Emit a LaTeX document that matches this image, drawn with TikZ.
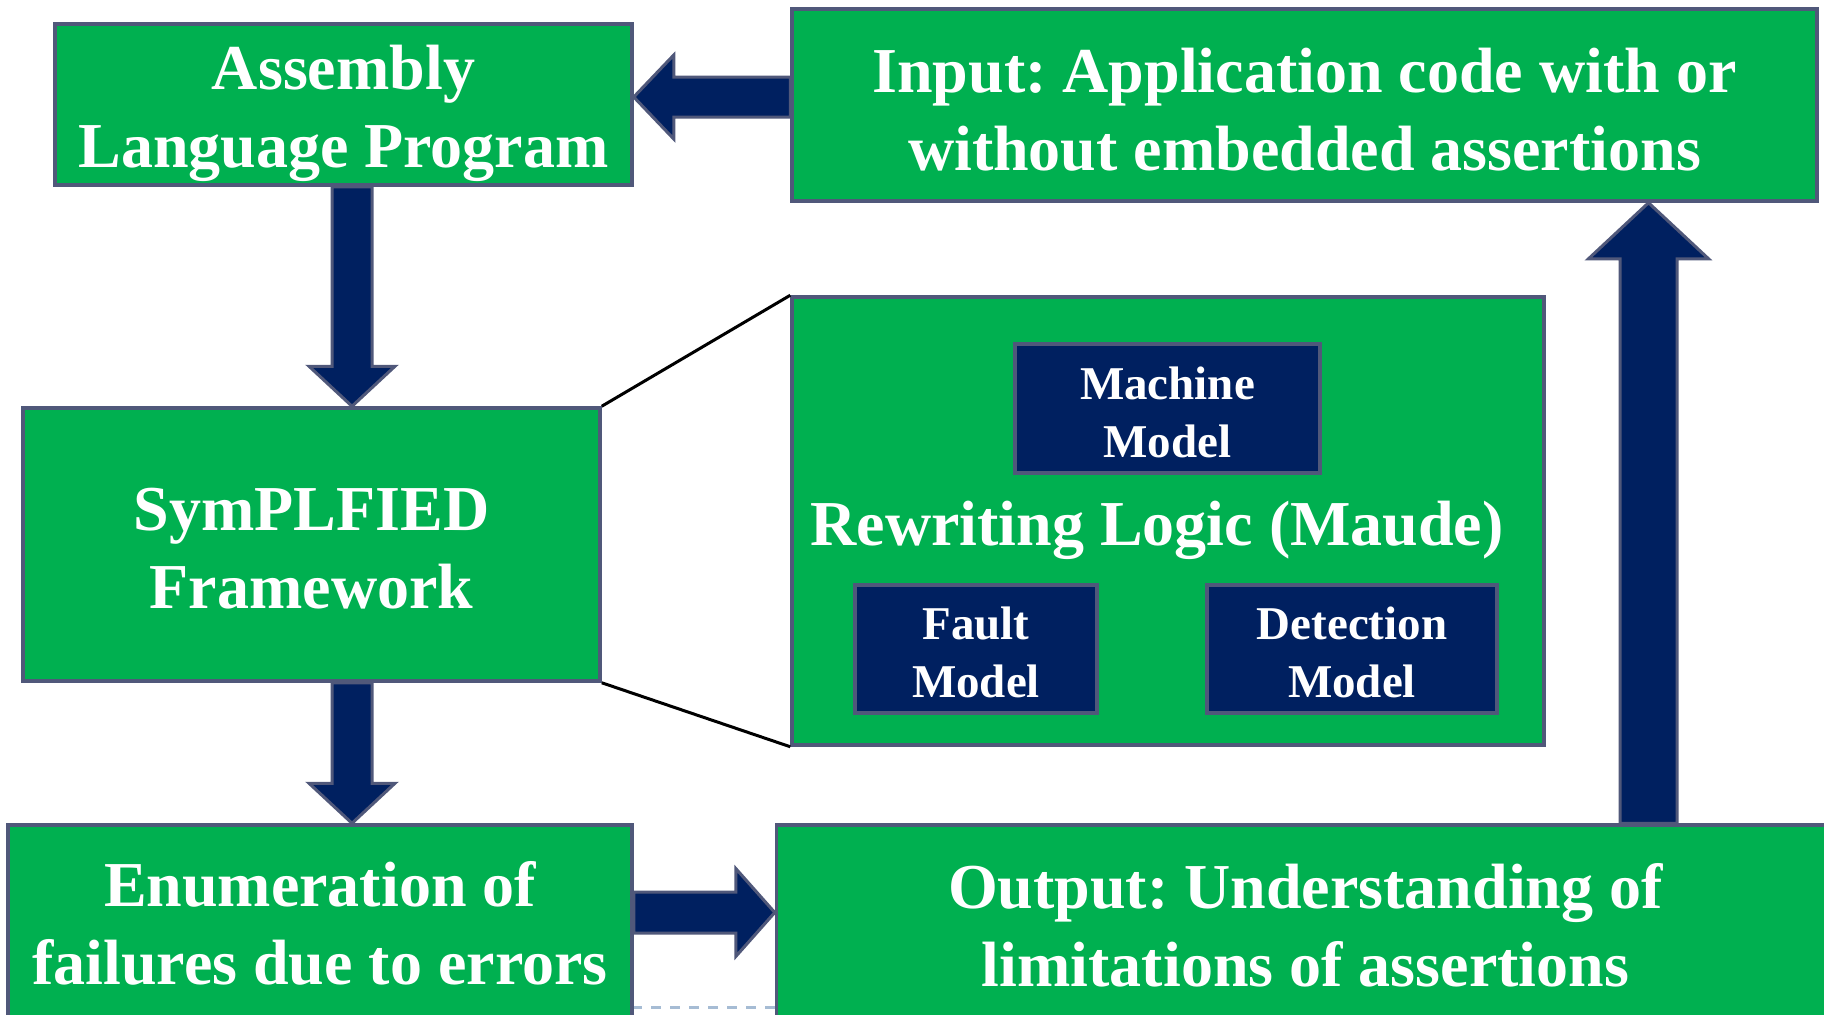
\documentclass[tikz,border=0pt]{standalone}
\usepackage{fontspec}
\setmainfont{Liberation Serif}
\usetikzlibrary{calc}
\frenchspacing

\definecolor{boxgreen}{HTML}{00B050}
\definecolor{navy}{HTML}{002060}
\definecolor{edge}{RGB}{80,88,122}
\definecolor{dashblue}{RGB}{166,188,212}

\tikzset{
  greenbox/.style={draw=edge, line width=3.5pt, fill=boxgreen, inner sep=0pt},
  modelbox/.style={draw=edge, line width=3.5pt, fill=navy, inner sep=0pt},
  bigtext/.style={text=white, align=center, inner sep=0pt,
    font=\bfseries\fontsize{64}{78}\selectfont},
  smalltext/.style={text=white, align=center, inner sep=0pt,
    font=\bfseries\fontsize{47}{58}\selectfont},
  blk/.style={draw=edge, line width=3pt, fill=navy, line join=miter},
  zoomline/.style={draw=black, line width=3pt},
  guide/.style={draw=dashblue, line width=3pt, dash pattern=on 10pt off 9pt}
}

% block arrow from #1 to the tip #2; shaft half-width #3, head half-width #4, head length #5
\newcommand\blockarrow[5]{%
  \coordinate (ba-h) at ($(#2)!#5!(#1)$);
  \draw[blk] ($(#1)!#3!90:(#2)$) -- ($(ba-h)!#3!90:(#2)$) -- ($(ba-h)!#4!90:(#2)$)
    -- (#2) -- ($(ba-h)!#4!-90:(#2)$) -- ($(ba-h)!#3!-90:(#2)$) -- ($(#1)!#3!-90:(#2)$) -- cycle;
}

\begin{document}
\begin{tikzpicture}[x=1pt, y=-1pt]
\useasboundingbox (0,0) rectangle (1824,1015);

% faint guide between the two bottom boxes
\coordinate (g-s) at (632,1007);
\coordinate (g-t) at (776,1007);
\draw[guide] (g-s) -- (g-t);

% main boxes
\node[greenbox, minimum width=577pt, minimum height=161pt] (asm) at (343.5,104.5) {};
\node[greenbox, minimum width=1025pt, minimum height=192pt] (inp) at (1304.5,105) {};
\node[greenbox, minimum width=577pt, minimum height=273pt] (sym) at (311.5,544.5) {};
\node[greenbox, minimum width=624pt, minimum height=200pt] (enu) at (320,925) {};
\node[greenbox, minimum width=1058pt, minimum height=200pt] (out) at (1305.5,925) {};

\node[bigtext] (asm-t) at ($(asm)+(0,9)$) {Assembly\\Language Program};
\node[bigtext] (inp-t) at ($(inp)+(0,5)$) {Input: Application code with or\\without embedded assertions};
\node[bigtext] (sym-t) at ($(sym)+(0,4)$) {SymPLFIED\\Framework};
\node[bigtext] (enu-t) at ($(enu)+(0,-1.5)$) {Enumeration of\\failures due to errors};
\node[bigtext] (out-t) at (out) {Output: Understanding of\\limitations of assertions};

% detail of the framework
\node[greenbox, minimum width=752pt, minimum height=448pt] (rw) at (1168,521) {};
\node[bigtext] (rw-t) at (1157,530.5) {Rewriting Logic (Maude)};
\node[modelbox, minimum width=305pt, minimum height=129pt] (mm) at (1167.5,408.5) {};
\node[modelbox, minimum width=242pt, minimum height=128pt] (fm) at (976,649) {};
\node[modelbox, minimum width=290pt, minimum height=128pt] (dm) at (1352,649) {};
\node[smalltext] (mm-t) at ($(mm)+(0,3.5)$) {Machine\\Model};
\node[smalltext] (fm-t) at ($(fm)+(0,3.5)$) {Fault\\Model};
\node[smalltext] (dm-t) at ($(dm)+(0,3.5)$) {Detection\\Model};

\draw[zoomline] (sym.north east) -- (rw.north west);
\draw[zoomline] (sym.south east) -- (rw.south west);

% flow arrows
\coordinate (la-s) at (inp.west |- 0,97);
\coordinate (la-t) at (asm.east |- la-s);
\blockarrow{la-s}{la-t}{20pt}{42pt}{40pt}

\coordinate (d1-s) at (asm.south -| 352,0);
\coordinate (d1-t) at (sym.north -| d1-s);
\blockarrow{d1-s}{d1-t}{20pt}{43pt}{40pt}

\coordinate (d2-s) at (sym.south -| 352,0);
\coordinate (d2-t) at (enu.north -| d2-s);
\blockarrow{d2-s}{d2-t}{20pt}{43pt}{40pt}

\coordinate (r-s) at (enu.east |- 0,912.5);
\coordinate (r-t) at (out.west |- r-s);
\blockarrow{r-s}{r-t}{20.5pt}{44pt}{39pt}

\coordinate (u-s) at (out.north -| 1648.5,0);
\coordinate (u-t) at (inp.south -| u-s);
\blockarrow{u-s}{u-t}{28.5pt}{60pt}{56pt}
\end{tikzpicture}
\end{document}
